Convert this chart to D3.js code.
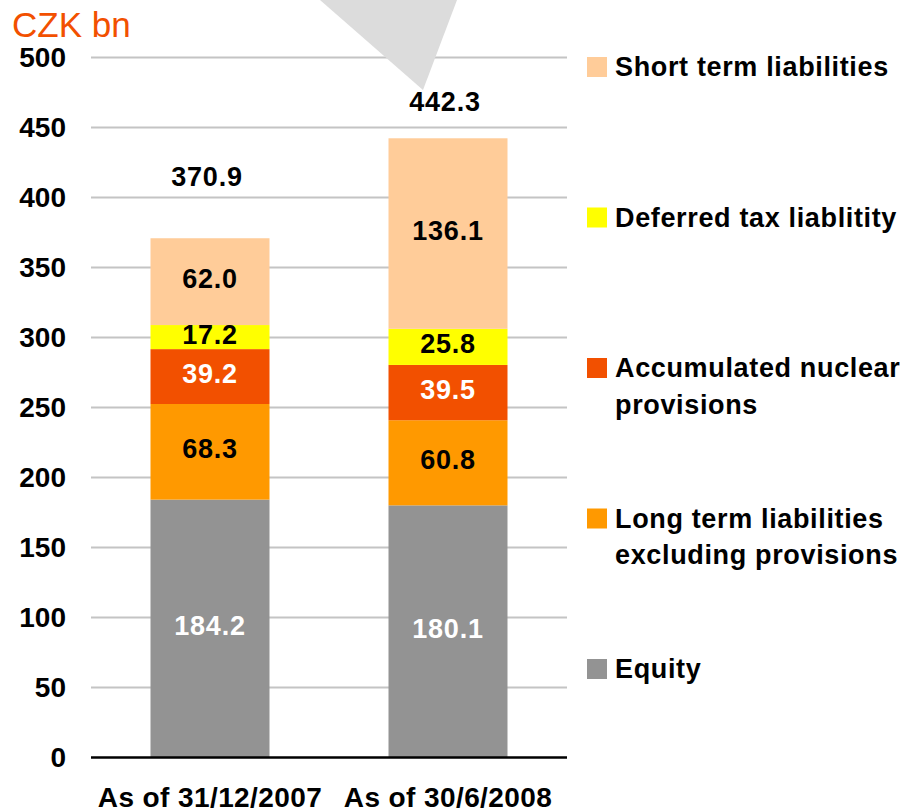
<!DOCTYPE html>
<html>
<head>
<meta charset="utf-8">
<script src="https://cdn.jsdelivr.net/npm/d3@7"></script>
<style>
    body { margin: 0; background: #fff; }
    svg { display: block; font-family: "Liberation Sans", Arial, sans-serif; }
</style>
</head>
<body>
<svg id="chart" width="910" height="812"></svg>
<script>
// data
const categories = ["As of 31/12/2007", "As of 30/6/2008"];
const seriesNames = ["Equity", "Long term liabilities\nexcluding provisions", "Accumulated nuclear\nprovisions", "Deferred tax liablitity", "Short term liabilities"];
const equity = [184.2, 180.1];
const longTerm = [68.3, 60.8];
const nuclear = [39.2, 39.5];
const deferredTax = [17.2, 25.8];
const shortTerm = [62.0, 136.1];
const totals = [370.9, 442.3];
const yTicks = [0, 50, 100, 150, 200, 250, 300, 350, 400, 450, 500];

const colors = ["#939393", "#FF9900", "#F25000", "#FFFF00", "#FFCC99"];
const labelColors = ["#fff", "#000", "#fff", "#000", "#000"];

const renderChart = () => {
    const svg = d3.select("#chart");
    const margin = { left: 91, right: 343, top: 57.5, bottom: 54.5 };
    const width = 910 - margin.left - margin.right;
    const height = 812 - margin.top - margin.bottom;

    const seriesValues = [equity, longTerm, nuclear, deferredTax, shortTerm];
    const rows = categories.map((c, i) => {
        const row = { category: c };
        seriesNames.forEach((s, k) => { row[s] = seriesValues[k][i]; });
        return row;
    });
    const stacked = d3.stack().keys(seriesNames)(rows);

    const x = d3.scaleBand()
        .domain(categories)
        .range([margin.left, margin.left + width])
        .paddingInner(0.5)
        .paddingOuter(0.25);

    const y = d3.scaleLinear()
        .domain([0, 500])
        .range([margin.top + height, margin.top]);

    // gridlines
    svg.append("g")
        .selectAll("line")
        .data(yTicks.filter(d => d > 0))
        .join("line")
        .attr("x1", margin.left)
        .attr("x2", margin.left + width)
        .attr("y1", d => y(d))
        .attr("y2", d => y(d))
        .attr("stroke", "#c4c4c4")
        .attr("stroke-width", 2);

    // y axis labels
    const yAxis = svg.append("g")
        .attr("transform", `translate(${margin.left},0)`)
        .call(d3.axisLeft(y).tickValues(yTicks).tickSize(0).tickPadding(25));
    yAxis.select(".domain").remove();
    yAxis.selectAll("text")
        .attr("font-family", "Liberation Sans, Arial, sans-serif")
        .attr("font-size", 28)
        .attr("font-weight", "bold")
        .attr("fill", "#000");

    // stacked bars
    const layers = svg.append("g")
        .selectAll("g")
        .data(stacked)
        .join("g")
        .attr("fill", (d, i) => colors[i]);

    layers.selectAll("rect")
        .data(d => d)
        .join("rect")
        .attr("x", d => x(d.data.category))
        .attr("width", x.bandwidth())
        .attr("y", d => y(d[1]))
        .attr("height", d => y(d[0]) - y(d[1]));

    // segment labels
    stacked.forEach((layer, i) => {
        svg.append("g")
            .selectAll("text")
            .data(layer)
            .join("text")
            .attr("x", d => x(d.data.category) + x.bandwidth() / 2)
            .attr("y", d => (y(d[0]) + y(d[1])) / 2)
            .attr("dy", 6.5)
            .attr("text-anchor", "middle")
            .attr("font-size", 27)
            .attr("font-weight", "bold")
            .attr("letter-spacing", 0.8)
            .attr("fill", labelColors[i])
            .text(d => (d[1] - d[0]).toFixed(1));
    });

    // zero line
    svg.append("line")
        .attr("x1", margin.left)
        .attr("x2", margin.left + width)
        .attr("y1", y(0))
        .attr("y2", y(0))
        .attr("stroke", "#000")
        .attr("stroke-width", 2.5);

    // totals above bars
    const totalLift = [52, 27];
    svg.append("g")
        .selectAll("text")
        .data(totals)
        .join("text")
        .attr("x", (d, i) => x(categories[i]) + x.bandwidth() / 2 - 3)
        .attr("y", (d, i) => y(d) - totalLift[i])
        .attr("text-anchor", "middle")
        .attr("font-size", 27)
        .attr("font-weight", "bold")
        .attr("letter-spacing", 0.8)
        .text(d => d.toFixed(1));

    // category labels
    svg.append("g")
        .selectAll("text")
        .data(categories)
        .join("text")
        .attr("x", d => x(d) + x.bandwidth() / 2)
        .attr("y", 807)
        .attr("text-anchor", "middle")
        .attr("font-size", 28)
        .attr("font-weight", "bold")
        .attr("letter-spacing", 0.4)
        .text(d => d);

    // unit label
    svg.append("text")
        .attr("x", 12)
        .attr("y", 37)
        .attr("font-size", 35)
        .attr("fill", "#F25000")
        .text("CZK bn");

    // grey callout pointer from above
    svg.append("path")
        .attr("d", "M320,0 L457,0 L423,90 Z")
        .attr("fill", "#dcdcdc");

    // legend, top entry is the top of the stack
    const legendOrder = seriesNames.map((s, i) => i).reverse();
    const legend = svg.append("g")
        .selectAll("g")
        .data(legendOrder)
        .join("g")
        .attr("transform", (d, j) => `translate(587,${57 + j * 150.5})`);

    legend.append("rect")
        .attr("width", 20)
        .attr("height", 20)
        .attr("fill", d => colors[d]);

    legend.append("text")
        .attr("x", 28)
        .attr("y", 19)
        .attr("font-size", 27)
        .attr("font-weight", "bold")
        .attr("letter-spacing", 0.65)
        .selectAll("tspan")
        .data(d => seriesNames[d].split("\n"))
        .join("tspan")
        .attr("x", 28)
        .attr("dy", (d, k) => k === 0 ? 0 : 36.5)
        .text(d => d);
}

window.onload = renderChart;
</script>
</body>
</html>
